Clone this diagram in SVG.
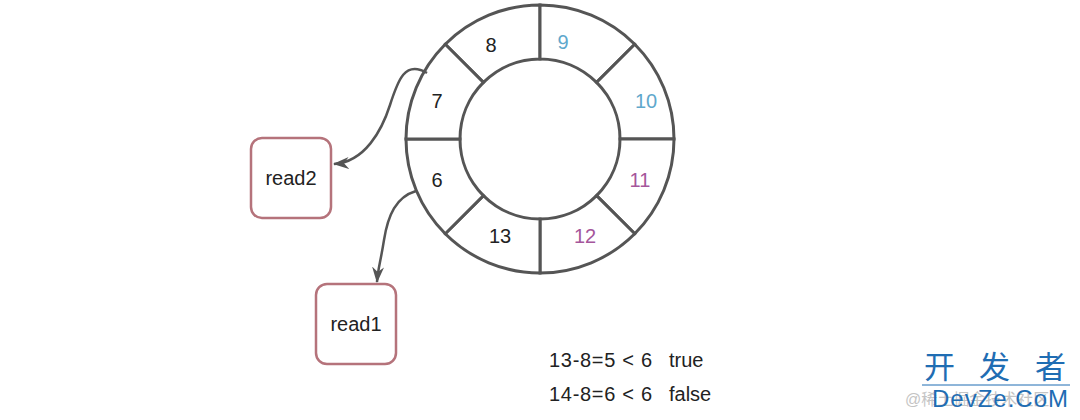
<svg xmlns="http://www.w3.org/2000/svg" width="1080" height="420" viewBox="0 0 1080 420">
<style>
.seg{fill:#fff;stroke:#555;stroke-width:3;stroke-linejoin:miter}
.lbl{font-family:"Liberation Sans",Arial,sans-serif;font-size:20px;text-anchor:middle;fill:#222}
.blue{fill:#5fa8cc}
.pink{fill:#a5569b}
.box{fill:#fff;stroke:#b5737b;stroke-width:2.5}
.conn{fill:none;stroke:#555;stroke-width:2.5;marker-end:url(#arr)}
.eq{font-family:"Liberation Sans",Arial,sans-serif;font-size:20px;fill:#222}
</style>
<defs>
<marker id="arr" markerUnits="userSpaceOnUse" markerWidth="18" markerHeight="14" refX="15" refY="6" orient="auto">
<path d="M0,0 L16,6 L0,12 L5,6 Z" fill="#555"/>
</marker>
</defs>
<rect width="1080" height="420" fill="#fff"/>
<g id="ring">
<g id="slot-8"><path class="seg" d="M445.25 44.25 A134 134 0 0 1 540 5 L540 59 A80 80 0 0 0 483.43 82.43 Z"/><text class="lbl" x="491" y="52">8</text></g>
<g id="slot-9"><path class="seg" d="M540 5 A134 134 0 0 1 634.75 44.25 L596.57 82.43 A80 80 0 0 0 540 59 Z"/><text class="lbl blue" x="563" y="49">9</text></g>
<g id="slot-10"><path class="seg" d="M634.75 44.25 A134 134 0 0 1 674 139 L620 139 A80 80 0 0 0 596.57 82.43 Z"/><text class="lbl blue" x="646" y="108">10</text></g>
<g id="slot-11"><path class="seg" d="M674 139 A134 134 0 0 1 634.75 233.75 L596.57 195.57 A80 80 0 0 0 620 139 Z"/><text class="lbl pink" x="640" y="187">11</text></g>
<g id="slot-12"><path class="seg" d="M634.75 233.75 A134 134 0 0 1 540 273 L540 219 A80 80 0 0 0 596.57 195.57 Z"/><text class="lbl pink" x="585" y="243">12</text></g>
<g id="slot-13"><path class="seg" d="M540 273 A134 134 0 0 1 445.25 233.75 L483.43 195.57 A80 80 0 0 0 540 219 Z"/><text class="lbl" x="500" y="243">13</text></g>
<g id="slot-6"><path class="seg" d="M445.25 233.75 A134 134 0 0 1 406 139 L460 139 A80 80 0 0 0 483.43 195.57 Z"/><text class="lbl" x="437" y="187">6</text></g>
<g id="slot-7"><path class="seg" d="M406 139 A134 134 0 0 1 445.25 44.25 L483.43 82.43 A80 80 0 0 0 460 139 Z"/><text class="lbl" x="437" y="108">7</text></g>
</g>
<g id="read2"><rect class="box" x="251" y="138" width="80" height="80" rx="11"/><text class="lbl" x="291" y="185">read2</text></g>
<g id="read1"><rect class="box" x="316" y="284" width="80" height="80" rx="11"/><text class="lbl" x="356" y="331">read1</text></g>
<g id="connectors">
<path class="conn" d="M427 73 C405 60, 398 80, 390 105 S365 162, 334 164"/>
<path class="conn" d="M416 191 C396 197, 388 215, 384 240 S378 268, 377 282"/>
</g>
<g id="notes">
<text class="eq" x="549" y="367" textLength="103">13-8=5 &lt; 6</text><text class="eq" x="669" y="367">true</text>
<text class="eq" x="549" y="401" textLength="103">14-8=6 &lt; 6</text><text class="eq" x="669" y="401">false</text>
</g>
<g id="watermark">
<text x="905" y="405" font-family="'Liberation Sans','Noto Sans CJK SC',sans-serif" font-size="16" fill="#c4c4c4">@稀土掘金技术社区</text>
<text font-family="'Noto Sans CJK SC',sans-serif" font-size="31" fill="#1f6db3"><tspan x="924" y="378">开</tspan><tspan x="979" y="378">发</tspan><tspan x="1035" y="378">者</tspan></text>
<line x1="922" y1="385" x2="1070" y2="385" stroke="#1f6db3" stroke-width="1"/>
<text x="932" y="407" font-family="'Liberation Sans',Arial,sans-serif" font-size="24" fill="#1f6db3" textLength="136">DevZe.CoM</text>
</g>
</svg>
